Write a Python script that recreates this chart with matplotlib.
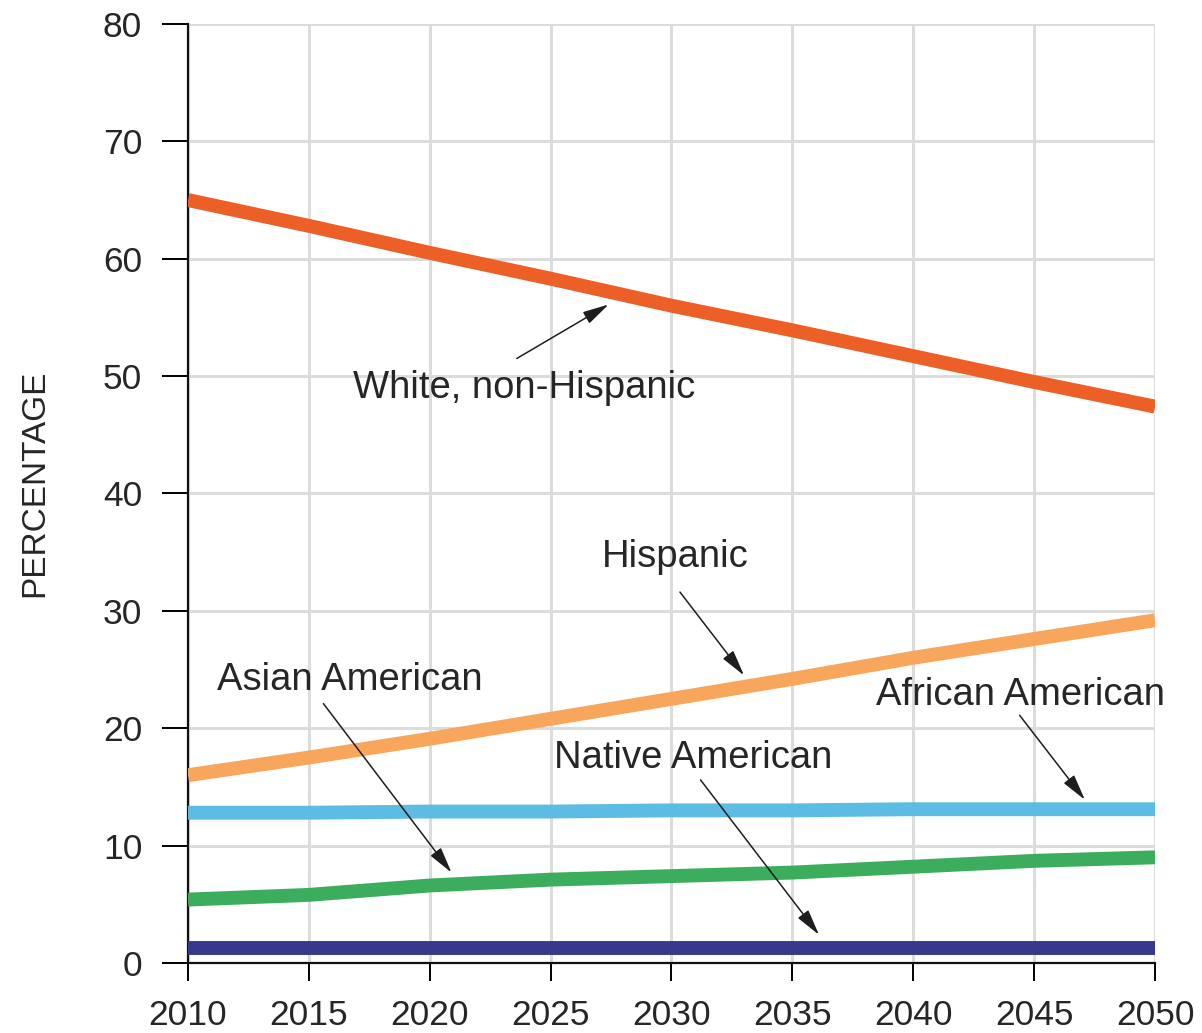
import matplotlib
matplotlib.use("Agg")
import matplotlib.pyplot as plt

# --- DATA (percent of US population, projected) ---
years = [2010, 2015, 2020, 2025, 2030, 2035, 2040, 2045, 2050]
white = [65.0, 62.8, 60.5, 58.3, 56.0, 53.9, 51.7, 49.5, 47.4]
hispanic = [16.0, 17.5, 19.1, 20.8, 22.5, 24.2, 26.0, 27.6, 29.2]
african = [12.8, 12.8, 12.9, 12.9, 13.0, 13.0, 13.1, 13.1, 13.1]
asian = [5.4, 5.8, 6.6, 7.1, 7.4, 7.7, 8.2, 8.7, 9.0]
native = [1.3, 1.3, 1.3, 1.3, 1.3, 1.3, 1.3, 1.3, 1.3]

x_ticks = list(range(2010, 2051, 5))
y_ticks = list(range(0, 81, 10))

# label text, text position, arrow tail, arrow head
labels = [
    ("White, non-Hispanic", (2023.9, 49.0), (2023.6, 51.5), (2027.4, 56.1)),
    ("Hispanic", (2030.15, 34.6), (2030.35, 31.6), (2033.0, 24.5)),
    ("Asian American", (2016.7, 24.1), (2015.6, 22.1), (2020.9, 7.7)),
    ("Native American", (2030.9, 17.5), (2031.2, 15.6), (2036.1, 2.4)),
    ("African American", (2044.45, 22.8), (2044.4, 21.1), (2047.1, 13.9)),
]

plt.rcParams['font.family'] = ['Liberation Sans', 'DejaVu Sans']

fig = plt.figure(figsize=(12.02, 10.33), dpi=100)
ax = fig.add_axes([0.1564, 0.0678, 0.8045, 0.909])

lw = 10
ax.plot(years, white, color='#ec5f27', lw=lw, solid_capstyle='butt', zorder=3)
ax.plot(years, hispanic, color='#f8a65c', lw=lw, solid_capstyle='butt', zorder=3)
ax.plot(years, african, color='#5cbce3', lw=lw, solid_capstyle='butt', zorder=3)
ax.plot(years, asian, color='#3cad5c', lw=lw, solid_capstyle='butt', zorder=3)
ax.plot(years, native, color='#37398a', lw=lw, solid_capstyle='butt', zorder=3)

for text, tpos, tail, head in labels:
    ax.text(tpos[0], tpos[1], text, ha='center', va='center',
            fontsize=27.5, color='#262626', zorder=5)
    ax.annotate('', xy=head, xytext=tail,
                arrowprops=dict(arrowstyle='-|>,head_length=1.6,head_width=0.4',
                                lw=1.1, color='#1e1e1e', shrinkA=0, shrinkB=0),
                zorder=5)

ax.set_xlim(2010, 2050)
ax.set_ylim(0, 80)
ax.set_xticks(x_ticks)
ax.set_yticks(y_ticks)
ax.grid(True, color='#dcdcdc', lw=2.2, zorder=0)
ax.set_axisbelow(True)

for side in ['top', 'right']:
    ax.spines[side].set_visible(False)
for side in ['left', 'bottom']:
    ax.spines[side].set_linewidth(1.6)
    ax.spines[side].set_color('#111111')

ax.tick_params(axis='y', length=19, width=1.4, pad=14, labelsize=25.5, labelcolor='#262626')
ax.tick_params(axis='x', length=13, width=1.4, pad=13, labelsize=25.5, labelcolor='#262626')

fig.text(0.0285, 0.532, 'PERCENTAGE', rotation=90, ha='center', va='center',
         fontsize=24, color='#262626')

fig.savefig('out.png', dpi=100)
